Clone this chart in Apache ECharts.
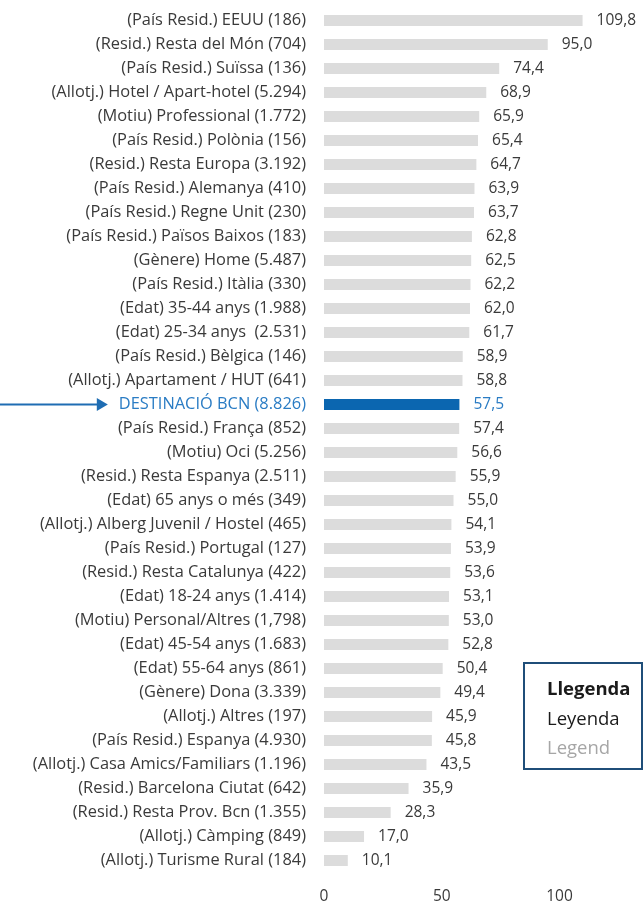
<!DOCTYPE html>
<html>
<head>
<meta charset="utf-8">
<script src="https://cdn.jsdelivr.net/npm/echarts@6/dist/echarts.min.js"></script>
<style>
  html, body { margin: 0; padding: 0; background: #fff; }
  #chart { width: 643px; height: 902px; }
</style>
</head>
<body>
<div id="chart"></div>
<script>
// Segments, top to bottom
const categories = [
  '(País Resid.) EEUU (186)',
  '(Resid.) Resta del Món (704)',
  '(País Resid.) Suïssa (136)',
  '(Allotj.) Hotel / Apart-hotel (5.294)',
  '(Motiu) Professional (1.772)',
  '(País Resid.) Polònia (156)',
  '(Resid.) Resta Europa (3.192)',
  '(País Resid.) Alemanya (410)',
  '(País Resid.) Regne Unit (230)',
  '(País Resid.) Països Baixos (183)',
  '(Gènere) Home (5.487)',
  '(País Resid.) Itàlia (330)',
  '(Edat) 35-44 anys (1.988)',
  '(Edat) 25-34 anys  (2.531)',
  '(País Resid.) Bèlgica (146)',
  '(Allotj.) Apartament / HUT (641)',
  'DESTINACIÓ BCN (8.826)',
  '(País Resid.) França (852)',
  '(Motiu) Oci (5.256)',
  '(Resid.) Resta Espanya (2.511)',
  '(Edat) 65 anys o més (349)',
  '(Allotj.) Alberg Juvenil / Hostel (465)',
  '(País Resid.) Portugal (127)',
  '(Resid.) Resta Catalunya (422)',
  '(Edat) 18-24 anys (1.414)',
  '(Motiu) Personal/Altres (1,798)',
  '(Edat) 45-54 anys (1.683)',
  '(Edat) 55-64 anys (861)',
  '(Gènere) Dona (3.339)',
  '(Allotj.) Altres (197)',
  '(País Resid.) Espanya (4.930)',
  '(Allotj.) Casa Amics/Familiars (1.196)',
  '(Resid.) Barcelona Ciutat (642)',
  '(Resid.) Resta Prov. Bcn (1.355)',
  '(Allotj.) Càmping (849)',
  '(Allotj.) Turisme Rural (184)'
];

const values = [
  109.8, 95.0, 74.4, 68.9, 65.9, 65.4, 64.7, 63.9, 63.7, 62.8,
  62.5, 62.2, 62.0, 61.7, 58.9, 58.8, 57.5, 57.4, 56.6, 55.9,
  55.0, 54.1, 53.9, 53.6, 53.1, 53.0, 52.8, 50.4, 49.4, 45.9,
  45.8, 43.5, 35.9, 28.3, 17.0, 10.1
];

const highlightCategory = 'DESTINACIÓ BCN (8.826)';

const xTickLabels = [0, 50, 100];

const legendLines = ['Llegenda', 'Leyenda', 'Legend'];

const FONT = '"Open Sans", "Noto Sans", sans-serif';
const FS_CAT = 16.4;
const FS_NUM = 15.5;
const FS_LEGEND = 18.5;
const TEXT = '#3a3a3a';
const BAR = '#dcdcdc';
const BLUE_BAR = '#0b66b0';
const BLUE_TEXT = '#2a7cc4';
const BLUE_ARROW = '#1f6db3';
const LABEL_MARGIN = 18;

const chart = echarts.init(document.getElementById('chart'));

const hiIndex = categories.indexOf(highlightCategory);

const seriesData = values.map((v, i) => {
  const item = { value: v };
  if (i === hiIndex) {
    item.itemStyle = { color: BLUE_BAR };
    item.label = { color: BLUE_TEXT };
  }
  return item;
});

chart.setOption({
  animation: false,
  backgroundColor: '#ffffff',
  grid: {
    left: 324, top: 8.5, height: 864, width: 120 * 2.355,
    containLabel: false,
    outerBoundsMode: 'none'
  },
  xAxis: {
    type: 'value',
    min: 0,
    max: 120,
    interval: 50,
    axisLine: { show: false },
    axisTick: { show: false },
    splitLine: { show: false },
    axisLabel: {
      color: TEXT,
      fontFamily: FONT,
      fontSize: FS_NUM,
      margin: 16,
      formatter: v => xTickLabels.indexOf(v) >= 0 ? String(v) : ''
    }
  },
  yAxis: {
    type: 'category',
    data: categories,
    inverse: true,
    axisLine: { show: false },
    axisTick: { show: false },
    axisLabel: {
      margin: LABEL_MARGIN,
      fontFamily: FONT,
      fontSize: FS_CAT,
      color: TEXT,
      formatter: v => v === highlightCategory ? '{hi|' + v + '}' : v,
      rich: { hi: { color: BLUE_TEXT, fontFamily: FONT, fontSize: FS_CAT } }
    }
  },
  series: [{
    type: 'bar',
    data: seriesData,
    barWidth: 11,
    clip: false,
    itemStyle: { color: BAR },
    label: {
      show: true,
      position: 'right',
      distance: 14,
      color: TEXT,
      fontFamily: FONT,
      fontSize: FS_NUM,
      formatter: p => p.value.toFixed(1).replace('.', ',')
    }
  }]
});

// Arrow pointing at the highlighted row, ending just before its label
const yPix = chart.convertToPixel({ yAxisIndex: 0 }, highlightCategory);
const ctx = document.createElement('canvas').getContext('2d');
ctx.font = FS_CAT + 'px ' + FONT;
const labelW = ctx.measureText(highlightCategory).width;
const tipX = 324 - LABEL_MARGIN - labelW - 11;
const headW = 11, headH = 13;

chart.setOption({
  graphic: [
    {
      type: 'line',
      shape: { x1: 0, y1: yPix, x2: tipX - headW + 1, y2: yPix },
      style: { stroke: BLUE_ARROW, lineWidth: 2 }
    },
    {
      type: 'polygon',
      shape: { points: [[tipX - headW, yPix - headH / 2], [tipX, yPix], [tipX - headW, yPix + headH / 2]] },
      style: { fill: BLUE_ARROW }
    },
    {
      type: 'group',
      left: 523,
      top: 662,
      children: [
        {
          type: 'rect',
          shape: { x: 0, y: 0, width: 118, height: 106 },
          style: { fill: '#ffffff', stroke: '#1f4e79', lineWidth: 2 }
        },
        {
          type: 'text',
          x: 23, y: 27,
          style: { text: legendLines[0], fill: '#1a1a1a', font: 'bold ' + FS_LEGEND + 'px ' + FONT, verticalAlign: 'middle' }
        },
        {
          type: 'text',
          x: 23, y: 57,
          style: { text: legendLines[1], fill: '#1a1a1a', font: FS_LEGEND + 'px ' + FONT, verticalAlign: 'middle' }
        },
        {
          type: 'text',
          x: 23, y: 86,
          style: { text: legendLines[2], fill: '#a6a6a6', font: FS_LEGEND + 'px ' + FONT, verticalAlign: 'middle' }
        }
      ]
    }
  ]
});
</script>
</body>
</html>
